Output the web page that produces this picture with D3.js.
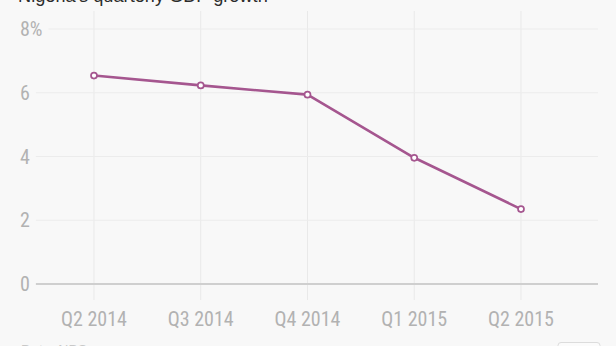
<!DOCTYPE html>
<html>
<head>
<meta charset="utf-8">
<script src="https://cdn.jsdelivr.net/npm/d3@7"></script>
<style>
  html, body { margin: 0; padding: 0; background: #f8f8f8; overflow: hidden; }
  svg { display: block; }
</style>
</head>
<body>
<svg id="chart" width="616" height="346"></svg>
<script>
// Quarterly GDP growth, year on year (%)
const quarters = ["Q2 2014", "Q3 2014", "Q4 2014", "Q1 2015", "Q2 2015"];
const growth = [6.54, 6.23, 5.94, 3.96, 2.35];
const yTicks = [0, 2, 4, 6, 8];
const yTickLabels = ["0", "2", "4", "6", "8%"];
const titleText = "Nigeria's quarterly GDP growth";
const sourceText = "Data: NBS";

const W = 616, H = 346;
const svg = d3.select("#chart");
const tickFont = "'Liberation Sans Narrow', 'Roboto Condensed', 'Arial Narrow', sans-serif";

const x = d3.scalePoint().domain(quarters).range([94, 521]);
const y = d3.scaleLinear().domain([0, 8]).range([284, 29]);

const gridLeft = 35, gridRight = 598;

// vertical gridlines
svg.append("g")
  .selectAll("line")
  .data(quarters)
  .join("line")
  .attr("x1", d => x(d)).attr("x2", d => x(d))
  .attr("y1", 11).attr("y2", 300)
  .attr("stroke", "#e9e9e9").attr("stroke-width", 1);

// y-axis labels
const yLab = svg.append("g")
  .selectAll("text")
  .data(yTicks)
  .join("text")
  .attr("x", 20)
  .attr("y", d => y(d))
  .attr("dy", "0.36em")
  .attr("font-family", tickFont)
  .attr("font-size", 20)
  .attr("fill", "#b2b2b2")
  .text((d, i) => yTickLabels[i]);

// horizontal gridlines, each starting past its label
const labelEnds = [];
yLab.each(function () { labelEnds.push(20 + this.getComputedTextLength()); });
svg.append("g")
  .selectAll("line")
  .data(yTicks)
  .join("line")
  .attr("x1", (d, i) => Math.max(gridLeft, labelEnds[i] + 6))
  .attr("x2", gridRight)
  .attr("y1", d => y(d)).attr("y2", d => y(d))
  .attr("stroke", d => d === 0 ? "#cfcfcf" : "#ececec")
  .attr("stroke-width", d => d === 0 ? 2 : 1);

// x-axis labels
svg.append("g")
  .selectAll("text")
  .data(quarters)
  .join("text")
  .attr("x", d => x(d))
  .attr("y", 326)
  .attr("text-anchor", "middle")
  .attr("font-family", tickFont)
  .attr("font-size", 20)
  .attr("fill", "#b2b2b2")
  .text(d => d);

// growth line
const pts = quarters.map((q, i) => [x(q), y(growth[i])]);
svg.append("path")
  .attr("d", d3.line()(pts))
  .attr("fill", "none")
  .attr("stroke", "#a5568f")
  .attr("stroke-width", 2.6)
  .attr("stroke-linejoin", "round");

svg.append("g")
  .selectAll("circle")
  .data(pts)
  .join("circle")
  .attr("cx", d => d[0]).attr("cy", d => d[1])
  .attr("r", 3)
  .attr("fill", "#ffffff")
  .attr("stroke", "#a5568f")
  .attr("stroke-width", 1.7);

// title, sitting at the top edge
svg.append("text")
  .attr("x", 18).attr("y", 2)
  .attr("font-family", "'Liberation Sans', Arial, sans-serif")
  .attr("font-size", 18.2)
  .attr("fill", "#2b2b2b")
  .text(titleText);

// source line and button at the bottom edge
svg.append("text")
  .attr("x", 21).attr("y", 355)
  .attr("font-family", "'Liberation Sans', Arial, sans-serif")
  .attr("font-size", 14)
  .attr("fill", "#c8c8c8")
  .text(sourceText);

svg.append("rect")
  .attr("x", 558).attr("y", 342.5)
  .attr("width", 42).attr("height", 20)
  .attr("rx", 3)
  .attr("fill", "#fbfbfb")
  .attr("stroke", "#dcdcdc");
</script>
</body>
</html>
